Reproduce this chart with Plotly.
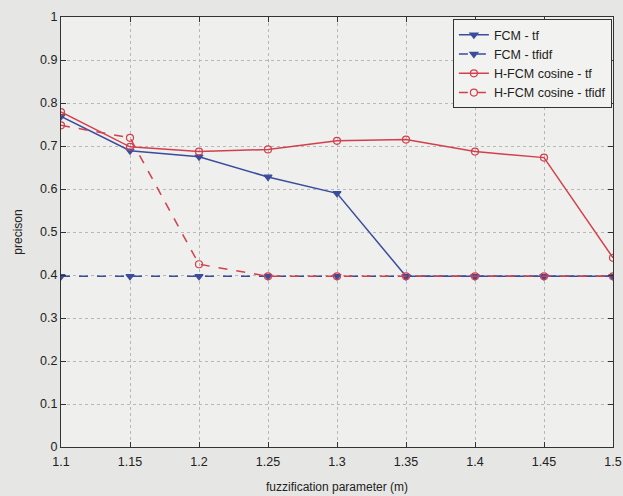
import plotly.graph_objects as go

# fuzzification parameter values (m)
m_values = [1.1, 1.15, 1.2, 1.25, 1.3, 1.35, 1.4, 1.45, 1.5]

# precision for each clustering variant
fcm_tf = [0.769, 0.689, 0.675, 0.628, 0.590, 0.397, 0.397, 0.397, 0.397]
fcm_tfidf = [0.397, 0.397, 0.397, 0.397, 0.397, 0.397, 0.397, 0.397, 0.397]
hfcm_cos_tf = [0.779, 0.698, 0.687, 0.692, 0.712, 0.715, 0.687, 0.673, 0.440]
hfcm_cos_tfidf = [0.748, 0.719, 0.425, 0.397, 0.397, 0.397, 0.397, 0.397, 0.397]

x_ticks = [1.1, 1.15, 1.2, 1.25, 1.3, 1.35, 1.4, 1.45, 1.5]
x_tick_text = ["1.1", "1.15", "1.2", "1.25", "1.3", "1.35", "1.4", "1.45", "1.5"]
y_ticks = [0, 0.1, 0.2, 0.3, 0.4, 0.5, 0.6, 0.7, 0.8, 0.9, 1]
y_tick_text = ["0", "0.1", "0.2", "0.3", "0.4", "0.5", "0.6", "0.7", "0.8", "0.9", "1"]

BLUE = "#3a4c9c"
RED = "#d2404e"
FONT = "Liberation Sans, Arial"

fig = go.Figure()

series = [
    ("FCM - tf", fcm_tf, BLUE, "solid", "triangle-down"),
    ("FCM - tfidf", fcm_tfidf, BLUE, "dash", "triangle-down"),
    ("H-FCM cosine - tf", hfcm_cos_tf, RED, "solid", "circle-open"),
    ("H-FCM cosine - tfidf", hfcm_cos_tfidf, RED, "dash", "circle-open"),
]

for name, vals, color, dash, symbol in series:
    fig.add_trace(go.Scatter(
        x=m_values, y=vals, name=name, mode="lines+markers",
        line=dict(color=color, width=1.5, dash=dash),
        marker=dict(symbol=symbol, size=7, color=color,
                    line=dict(color=color, width=1.2)),
    ))

axis_common = dict(
    showline=True, linecolor="#333333", linewidth=1, mirror="ticks",
    ticks="inside", ticklen=5, tickcolor="#333333",
    showgrid=True, gridcolor="#b8b8b8", griddash="dot", gridwidth=1,
    zeroline=False, automargin=False,
    tickfont=dict(family=FONT, size=12.5, color="#222222"),
)

fig.update_xaxes(
    range=[1.1, 1.5], tickvals=x_ticks, ticktext=x_tick_text,
    ticklabelstandoff=3,
    title=dict(text="fuzzification parameter (m)", standoff=14,
               font=dict(family=FONT, size=12, color="#222222")),
    **axis_common,
)
fig.update_yaxes(
    range=[0, 1], tickvals=y_ticks, ticktext=y_tick_text,
    title=dict(text="precison", standoff=14,
               font=dict(family=FONT, size=12, color="#222222")),
    **axis_common,
)

fig.update_layout(
    width=623, height=496,
    margin=dict(l=61, r=10, t=17, b=49),
    paper_bgcolor="#e6e6e4", plot_bgcolor="#efefed",
    font=dict(family=FONT, size=12, color="#222222"),
    legend=dict(
        x=0.998, y=0.995, xanchor="right", yanchor="top",
        bgcolor="#f2f2f0", bordercolor="#333333", borderwidth=1,
        font=dict(size=12.5), tracegroupgap=0, itemwidth=30,
    ),
    showlegend=True,
)

fig.write_html("out.html")
